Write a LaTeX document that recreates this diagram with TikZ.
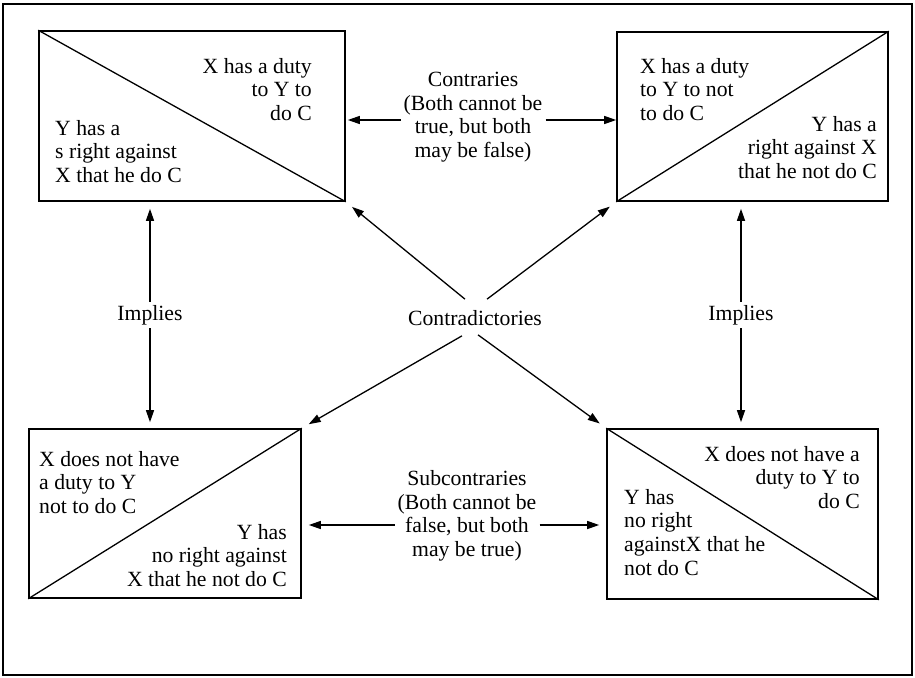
\documentclass[tikz,border=0pt]{standalone}
\usepackage{fontspec}
\setmainfont{Liberation Serif}
\usetikzlibrary{arrows.meta}

\tikzset{
  txt/.style={inner sep=0pt, font=\fontsize{21.7}{23.6}\selectfont},
  lbl/.style={inner sep=3pt, align=center, font=\fontsize{21.7}{23.6}\selectfont},
  claimbox/.style={draw, line width=1.6pt, inner sep=0pt},
  rel/.style={-{Triangle[length=12pt,width=8pt]}, line width=1.3pt},
}

\begin{document}
\begin{tikzpicture}[x=1pt, y=-1pt]

        \useasboundingbox (0, 0) rectangle (915, 677);

        % Cornice
        \draw[line width=1.6pt] (3, 4) rectangle (912, 675);

        % Riquadri
        \node[claimbox, minimum width=306pt, minimum height=170pt] (tl) at (192, 116) {};
        \node[claimbox, minimum width=271pt, minimum height=169pt] (tr) at (752.5, 116.5) {};
        \node[claimbox, minimum width=272pt, minimum height=169pt] (bl) at (165, 513.5) {};
        \node[claimbox, minimum width=271pt, minimum height=170pt] (br) at (742.5, 514) {};

        % Diagonali
        \draw[line width=1.3pt] (tl.north west) -- (tl.south east);
        \draw[line width=1.3pt] (tr.south west) -- (tr.north east);
        \draw[line width=1.3pt] (bl.south west) -- (bl.north east);
        \draw[line width=1.3pt] (br.north west) -- (br.south east);

        % Testi nei riquadri
        \node[txt, anchor=north east, align=right] (tlA) at (312, 58) {X has a duty\\to Y to\\do C};
        \node[txt, anchor=north west, align=left] (tlB) at (55, 120) {Y has a\\s right against\\X that he do C};
        \node[txt, anchor=north west, align=left] (trA) at (640, 58) {X has a duty\\to Y to not\\to do C};
        \node[txt, anchor=north east, align=right] (trB) at (877, 116) {Y has a\\right against X\\that he not do C};
        \node[txt, anchor=north west, align=left] (blA) at (39, 451) {X does not have\\a duty to Y\\not to do C};
        \node[txt, anchor=north east, align=right] (blB) at (287, 524) {Y has\\no right against\\X that he not do C};
        \node[txt, anchor=north east, align=right] (brA) at (860, 446) {X does not have a\\duty to Y to\\do C};
        \node[txt, anchor=north west, align=left] (brB) at (624, 489) {Y has\\no right\\againstX that he\\not do C};

        % Relazioni
        \node[lbl] (contra) at (473, 117) {Contraries\\(Both cannot be\\true, but both\\may be false)};
        \node[lbl] (subcontra) at (467, 516) {Subcontraries\\(Both cannot be\\false, but both\\may be true)};
        \node[lbl] (impL) at (150, 315) {Implies};
        \node[lbl] (impR) at (741, 315) {Implies};
        \node[lbl] (contrad) at (475, 318) {Contradictories};

        % Frecce orizzontali
        \draw[rel, shorten >=2pt] ([yshift=-3pt]contra.west) -- ([yshift=-3pt]contra.west -| tl.east);
        \draw[rel] ([yshift=-3pt]contra.east) -- ([yshift=-3pt]contra.east -| tr.west);
        \draw[rel, shorten >=7pt] ([yshift=-9pt]subcontra.west) -- ([yshift=-9pt]subcontra.west -| bl.east);
        \draw[rel, shorten >=7pt] ([yshift=-9pt]subcontra.east) -- ([yshift=-9pt]subcontra.east -| br.west);

        % Frecce verticali
        \draw[rel, shorten >=7pt] (impL) -- (impL |- tl.south);
        \draw[rel, shorten >=6pt] (impL) -- (impL |- bl.north);
        \draw[rel, shorten >=7pt] (impR) -- (impR |- tr.south);
        \draw[rel, shorten >=6pt] (impR) -- (impR |- br.north);

        % Frecce diagonali
        \draw[rel, shorten >=8pt] ([xshift=-10pt, yshift=8pt]contrad.north) -- (tl.south east);
        \draw[rel, shorten >=8pt] ([xshift=12pt, yshift=8pt]contrad.north) -- (tr.south west);
        \draw[rel, shorten >=8pt] ([xshift=-13pt, yshift=-7pt]contrad.south) -- (bl.north east);
        \draw[rel, shorten >=8pt] ([xshift=3pt, yshift=-6pt]contrad.south) -- (br.north west);

\end{tikzpicture}
\end{document}
